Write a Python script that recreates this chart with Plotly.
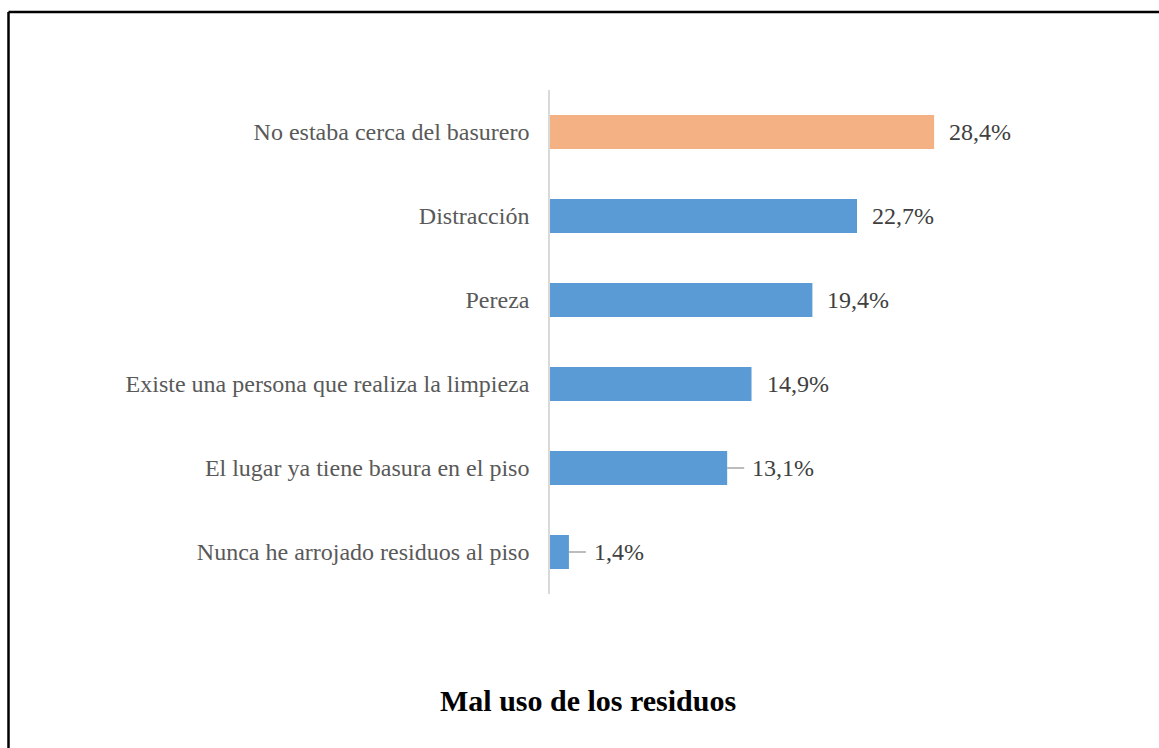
import plotly.graph_objects as go

categories = [
    "No estaba cerca del basurero",
    "Distracción",
    "Pereza",
    "Existe una persona que realiza la limpieza",
    "El lugar ya tiene basura en el piso",
    "Nunca he arrojado residuos al piso",
]
values = [28.4, 22.7, 19.4, 14.9, 13.1, 1.4]
labels = ["28,4%", "22,7%", "19,4%", "14,9%", "13,1%", "1,4%"]
has_leader = [False, False, False, False, True, True]
title_text = "Mal uso de los residuos"

ORANGE = "#F4B183"
BLUE = "#5B9BD5"
colors = [ORANGE] + [BLUE] * (len(values) - 1)

W, H = 1159, 748
ML, MT = 550, 90
PW, PH = 541, 504
MR, MB = W - ML - PW, H - MT - PH
SERIF = "Liberation Serif, Times New Roman, serif"


def px_to_paper_x(px):
    return (px - ML) / PW


def px_to_paper_y(py):
    return (MT + PH - py) / PH


fig = go.Figure(go.Bar(
    x=values, y=categories, orientation="h",
    marker=dict(color=colors, line=dict(width=0)),
    hoverinfo="skip",
))

annotations = []
shapes = []
for c, v, lab, lead in zip(categories, values, labels, has_leader):
    if lead:
        shapes.append(dict(type="line", xref="x", yref="y", xsizemode="pixel",
                           xanchor=v, x0=0, x1=17, y0=c, y1=c,
                           line=dict(color="#A6A6A6", width=1.5)))
    annotations.append(dict(x=v, y=c, xref="x", yref="y", text=lab,
                            showarrow=False, xanchor="left", yanchor="middle",
                            xshift=(23 if lead else 13),
                            font=dict(family=SERIF, size=24, color="#404040")))

# title at bottom
annotations.append(dict(x=px_to_paper_x(588), y=px_to_paper_y(700), xref="paper", yref="paper",
                        text="<b>" + title_text + "</b>", showarrow=False,
                        xanchor="center", yanchor="middle",
                        font=dict(family=SERIF, size=30, color="#000000")))

# outer border: left and top edges (right/bottom fall outside the picture)
bx = px_to_paper_x(8.5)
by = px_to_paper_y(12)
shapes.append(dict(type="line", xref="paper", yref="paper",
                   x0=bx, x1=bx, y0=by, y1=px_to_paper_y(H),
                   line=dict(color="black", width=2.5), layer="above"))
shapes.append(dict(type="line", xref="paper", yref="paper",
                   x0=bx, x1=px_to_paper_x(W), y0=by, y1=by,
                   line=dict(color="black", width=2.5), layer="above"))

fig.update_layout(
    width=W, height=H,
    margin=dict(l=ML, r=MR, t=MT, b=MB, pad=0),
    paper_bgcolor="white", plot_bgcolor="white",
    bargap=0.595,
    showlegend=False,
    xaxis=dict(range=[0, 40], showgrid=False, zeroline=False, showticklabels=False,
               showline=False, ticks="", fixedrange=True),
    yaxis=dict(autorange="reversed", showgrid=False, zeroline=False,
               showline=True, linecolor="#D9D9D9", linewidth=1.5,
               ticks="", ticklabelstandoff=14,
               tickfont=dict(family=SERIF, size=24, color="#595959"), fixedrange=True),
    annotations=annotations,
    shapes=shapes,
)

fig.write_html(
    "out.html",
    config={"displayModeBar": False},
    post_script="document.body.style.margin='0';document.body.style.overflow='hidden';",
)
